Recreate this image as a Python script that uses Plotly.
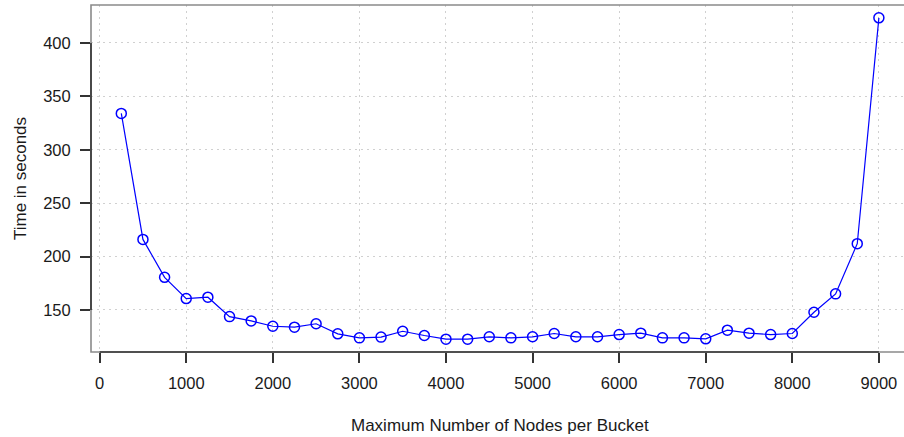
import plotly.graph_objects as go

# Bucket capacity (max nodes per bucket) and measured run time
bucket_size = [250, 500, 750, 1000, 1250, 1500, 1750, 2000, 2250, 2500,
               2750, 3000, 3250, 3500, 3750, 4000, 4250, 4500, 4750, 5000,
               5250, 5500, 5750, 6000, 6250, 6500, 6750, 7000, 7250, 7500,
               7750, 8000, 8250, 8500, 8750, 9000]
time_sec = [334, 216, 180.5, 160.6, 161.9, 143.7, 139.7, 134.7, 133.8, 137,
            127.6, 123.8, 124.5, 130, 126, 122.6, 122.6, 124.8, 123.8, 124.8,
            127.9, 124.8, 124.8, 126.9, 128.2, 123.8, 123.8, 122.9, 131, 128.2,
            126.9, 127.9, 147.8, 165, 212, 423.5]

x_ticks = [0, 1000, 2000, 3000, 4000, 5000, 6000, 7000, 8000, 9000]
y_ticks = [150, 200, 250, 300, 350, 400]

x_title = "Maximum Number of Nodes per Bucket"
y_title = "Time in seconds"

# R-style 4% padding around the data range
y_span = max(time_sec) - min(time_sec)
y_range = [min(time_sec) - 0.04 * y_span, max(time_sec) + 0.04 * y_span]
x_span = max(bucket_size) - min(bucket_size)
x_lo = min(bucket_size) - 0.04 * x_span
x_range = [x_lo, 9290]

FONT = "Liberation Sans, Arial, Helvetica, sans-serif"
AXIS_COL = "#333333"

fig = go.Figure()
fig.add_trace(go.Scatter(
    x=bucket_size, y=time_sec, mode="lines+markers",
    line=dict(color="#0000ff", width=1.2),
    marker=dict(symbol="circle-open", size=10, color="#0000ff",
                line=dict(width=1.5, color="#0000ff")),
    hoverinfo="skip", showlegend=False,
))

grid = dict(showgrid=True, gridcolor="#d0d0d0", gridwidth=1, griddash="2px,4px")

fig.update_layout(
    width=904, height=437,
    margin=dict(l=91, r=0, t=5, b=85),
    paper_bgcolor="white", plot_bgcolor="white",
    font=dict(family=FONT, size=16.5, color="#1a1a1a"),
    xaxis=dict(range=x_range, tickmode="array", tickvals=x_ticks,
               ticks="outside", ticklen=10, tickwidth=1.5, tickcolor=AXIS_COL,
               showline=False, zeroline=False, ticklabelstandoff=6,
               **grid),
    yaxis=dict(range=y_range, tickmode="array", tickvals=y_ticks,
               ticks="outside", ticklen=10, tickwidth=1.5, tickcolor=AXIS_COL,
               showline=False, zeroline=False, ticklabelstandoff=6,
               title=dict(text=y_title, font=dict(size=17), standoff=12),
               **grid),
)

# plot frame (right side runs off the canvas)
fig.add_shape(type="rect", xref="paper", yref="paper", x0=0, x1=1.03, y0=0, y1=1,
              line=dict(color="#8a8a8a", width=1.6), layer="above")
# axis lines spanning first to last tick
fig.add_shape(type="line", xref="x", yref="paper", x0=x_ticks[0], x1=x_ticks[-1],
              y0=0, y1=0, line=dict(color=AXIS_COL, width=1.6), layer="above")
fig.add_shape(type="line", xref="paper", yref="y", x0=0, x1=0,
              y0=y_ticks[0], y1=y_ticks[-1], line=dict(color=AXIS_COL, width=1.6),
              layer="above")

# x-axis title centred on the full plotting region
fig.add_annotation(text=x_title, xref="x", yref="paper",
                   x=(x_lo + max(bucket_size) + 0.04 * x_span) / 2, y=0,
                   yshift=-73, showarrow=False, font=dict(size=17),
                   xanchor="center", yanchor="middle")

fig.write_html("out.html", config={"displayModeBar": False})
